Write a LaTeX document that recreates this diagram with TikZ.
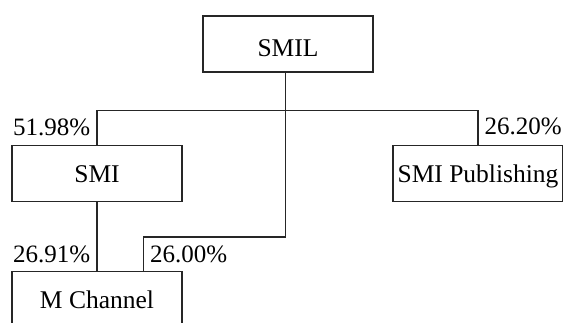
\documentclass[tikz,border=0pt]{standalone}
\usepackage{fontspec}
\setmainfont{Liberation Serif}
\usepackage{tikz}
\usetikzlibrary{positioning}
\tikzset{
  unit/.style={draw=black!85, line width=1.3pt, minimum width=170pt,
    minimum height=56pt, inner sep=0pt, text height=17pt, text depth=0pt,
    text=black, align=center},
  link/.style={draw=black!85, line width=1.2pt},
  share/.style={inner xsep=6.5pt, inner ysep=0pt, text height=17pt,
    text depth=0pt, text=black, font=\fontsize{25}{30}\selectfont}}

\begin{document}
\begin{tikzpicture}[x=1pt, y=-1pt, font=\fontsize{25.5}{30}\selectfont]
    \path[use as bounding box, clip] (0,0) rectangle (563,323);
    \node[unit, text height=26pt] (smil) at (288,44) {SMIL};
    \node[unit] (smi) at (97,173.6) {SMI};
    \node[unit] (pub) at (478,173.6) {SMI Publishing};
    \node[unit] (mch) at (97,299.7) {M Channel};
    \coordinate (hub) at (285.7,110.7);
    \coordinate (bend) at (143.3,237);
    % ownership lines
    \draw[link] (hub |- smil.south) -- (hub);
    \draw[link] (smi.north) |- (hub) -| (pub.north);
    \draw[link] (hub) |- (bend) -- (bend |- mch.north);
    \draw[link] (smi.south) -- (mch.north);
    % shares
    \node[share, anchor=east] (s1) at (97,127) {51.98\%};
    \node[share, anchor=west] (s2) at (478,126) {26.20\%};
    \node[share, anchor=east] (s3) at (97,254) {26.91\%};
    \node[share, anchor=west] (s4) at (143.3,254) {26.00\%};
    \end{tikzpicture}
\end{document}
